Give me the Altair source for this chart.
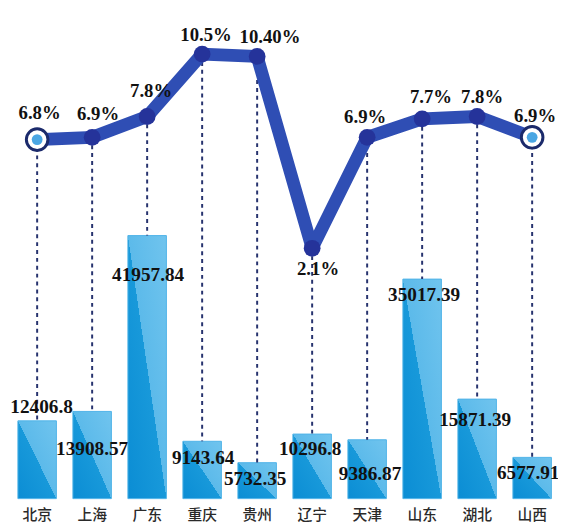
import altair as alt
import pandas as pd

# ---------------- data ----------------
provinces = ["北京", "上海", "广东", "重庆", "贵州", "辽宁", "天津", "山东", "湖北", "山西"]
gdp = [12406.8, 13908.57, 41957.84, 9143.64, 5732.35, 10296.8, 9386.87, 35017.39, 15871.39, 6577.91]
gdp_labels = ["12406.8", "13908.57", "41957.84", "9143.64", "5732.35",
              "10296.8", "9386.87", "35017.39", "15871.39", "6577.91"]
growth = [6.8, 6.9, 7.8, 10.5, 10.4, 2.1, 6.9, 7.7, 7.8, 6.9]
growth_labels = ["6.8%", "6.9%", "7.8%", "10.5%", "10.40%", "2.1%", "6.9%", "7.7%", "7.8%", "6.9%"]

# ---------------- layout (pixel offsets of the value labels) ----------------
gdp_label_offsets = [(4.5, -14), (0, 38), (1, 40), (1, 17), (-2, 17),
                     (-2, 15), (3, 35), (2, 16), (-2, 21), (-4, 16)]
growth_label_offsets = [(2.5, -27), (6, -24), (4, -26), (4, -19), (13, -20),
                        (6, 21), (-2, -21), (9, -22), (5, -20), (3, -22)]

W, H = 558, 494
GDP_MAX = 77673.0
G_MIN, G_MAX = -8.73, 12.334

df = pd.DataFrame({
    "province": provinces,
    "gdp": gdp,
    "gdp_label": gdp_labels,
    "growth": growth,
    "growth_label": growth_labels,
})

x_enc = alt.X("province:N", sort=provinces,
              scale=alt.Scale(paddingInner=0.3, paddingOuter=0.15, align=0.6),
              axis=alt.Axis(title=None, labelAngle=0, ticks=False, domain=False, grid=False,
                            labelFont="Noto Sans CJK SC", labelFontSize=15, labelFontWeight=500,
                            labelColor="#2a2a2a", labelPadding=9))
y_gdp = alt.Y("gdp:Q", scale=alt.Scale(domain=[0, GDP_MAX], nice=False, zero=True), axis=None)
y_growth = alt.Y("growth:Q", scale=alt.Scale(domain=[G_MIN, G_MAX], nice=False, zero=False), axis=None)

base = alt.Chart(df)

bar_fill = alt.Gradient(
    gradient="linear",
    stops=[
        alt.GradientStop(color="#0b8dd4", offset=0),
        alt.GradientStop(color="#1899da", offset=0.5),
        alt.GradientStop(color="#5cbaea", offset=0.5),
        alt.GradientStop(color="#70c4ee", offset=1),
    ],
    x1=0, y1=1, x2=1, y2=0,
)

bars = base.mark_bar(color=bar_fill, stroke="#4fb3e8", strokeWidth=1).encode(
    x=x_enc, y=y_gdp
)

rules = base.transform_calculate(
    top_g=f"{G_MIN} + datum.gdp / {GDP_MAX} * {G_MAX - G_MIN}"
).mark_rule(color="#27336e", strokeWidth=2, strokeDash=[4, 4]).encode(
    x=x_enc, y=y_growth, y2="top_g:Q"
)

line = base.mark_line(color="#2f4eb4", strokeWidth=13, strokeCap="round",
                      strokeJoin="round").encode(x=x_enc, y=y_growth)

mid_points = base.transform_filter(
    (alt.datum.province != provinces[0]) & (alt.datum.province != provinces[-1])
).mark_circle(size=290, color="#25339a", opacity=1).encode(x=x_enc, y=y_growth)

end_filter = (alt.datum.province == provinces[0]) | (alt.datum.province == provinces[-1])
end_outer = base.transform_filter(end_filter).mark_point(
    shape="circle", filled=True, fill="white", stroke="#1b2a6b", strokeWidth=3,
    size=480, opacity=1
).encode(x=x_enc, y=y_growth)
end_inner = base.transform_filter(end_filter).mark_circle(
    size=120, color="#4aa6e3", opacity=1
).encode(x=x_enc, y=y_growth)

layers = [bars, rules, line, mid_points, end_outer, end_inner]

for p, (dx, dy) in zip(provinces, gdp_label_offsets):
    layers.append(
        base.transform_filter(alt.datum.province == p).mark_text(
            dx=dx, dy=dy, align="center", baseline="middle",
            font="Liberation Serif", fontSize=19.5, fontWeight="bold", color="#111111"
        ).encode(x=x_enc, y=y_gdp, text="gdp_label:N")
    )

for p, (dx, dy) in zip(provinces, growth_label_offsets):
    layers.append(
        base.transform_filter(alt.datum.province == p).mark_text(
            dx=dx, dy=dy, align="center", baseline="middle",
            font="Liberation Serif", fontSize=19, fontWeight="bold", color="#111111"
        ).encode(x=x_enc, y=y_growth, text="growth_label:N")
    )

chart = alt.layer(*layers).resolve_scale(y="independent").properties(
    width=W, height=H,
    autosize=alt.AutoSizeParams(type="none"),
    padding={"left": 0, "top": 0, "right": 0, "bottom": 22},
    background="white",
).configure_view(stroke=None)

chart.save("out.html", embed_options={"renderer": "svg", "actions": False})
